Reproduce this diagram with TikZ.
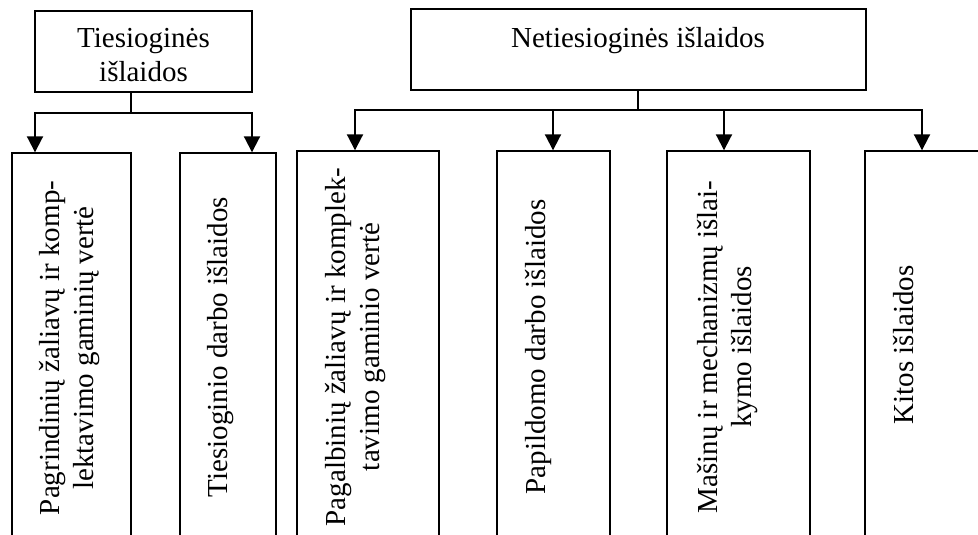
\documentclass[tikz,border=0pt]{standalone}
\usepackage{fontspec}
\setmainfont{Liberation Serif}
\usetikzlibrary{arrows.meta}
\begin{document}
\begin{tikzpicture}[x=1pt,y=-1pt,
  box/.style={draw, line width=1.4pt, inner sep=0pt},
  lbl/.style={font=\fontsize{29}{34}\selectfont, align=center, inner sep=0pt},
  vlbl/.style={lbl, rotate=90},
  stem/.style={line width=1.4pt},
  arr/.style={line width=2pt, -{Triangle[length=16pt,width=16pt]}}]
\useasboundingbox (0,0) rectangle (978,535);
\clip (0,0) rectangle (978,535);
% top boxes
\node[box, minimum width=217pt, minimum height=81pt] (t1) at (143.5,51.5) {};
\node[lbl] (t1l) at (143.5,55) {Tiesioginės\\išlaidos};
\node[box, minimum width=455pt, minimum height=81pt] (t2) at (638.5,49.5) {};
\node[lbl] (t2l) at (638,41) {Netiesioginės išlaidos};
% bottom boxes
\node[box, minimum width=119pt, minimum height=392pt] (A) at (71.5,349) {};
\node[box, minimum width=96pt, minimum height=392pt] (B) at (228,349) {};
\node[box, minimum width=142pt, minimum height=394pt] (C) at (368,348) {};
\node[box, minimum width=113pt, minimum height=394pt] (D) at (553.5,348) {};
\node[box, minimum width=143pt, minimum height=394pt] (E) at (738.5,348) {};
\node[box, minimum width=130pt, minimum height=394pt] (F) at (930,348) {};
\node[vlbl] (Al) at (70,348) {Pagrindinių žaliavų ir komp-\\lektavimo gaminių vertė};
\node[vlbl] (Bl) at (221,347) {Tiesioginio darbo išlaidos};
\node[vlbl] (Cl) at (356,347) {Pagalbinių žaliavų ir komplek-\\tavimo gaminio vertė};
\node[vlbl] (Dl) at (538,347) {Papildomo darbo išlaidos};
\node[vlbl] (El) at (728,347) {Mašinų ir mechanizmų išlai-\\kymo išlaidos};
\node[vlbl] (Fl) at (903.5,345) {Kitos išlaidos};
% connectors, left group
\coordinate (j1) at (131,113);
\coordinate (a1) at (35,113);
\coordinate (b1) at (252,113);
\draw[stem] (t1.south -| j1) -- (j1);
\draw[arr] (j1) -| (A.north -| a1);
\draw[arr] (j1) -| (B.north -| b1);
% connectors, right group
\coordinate (j2) at (638,110);
\coordinate (c1) at (355,110);
\coordinate (d1) at (553,110);
\coordinate (e1) at (724,110);
\coordinate (f1) at (922,110);
\draw[stem] (t2.south -| j2) -- (j2);
\draw[arr] (j2) -| (C.north -| c1);
\draw[arr] (j2) -| (F.north -| f1);
\draw[arr] (d1) -- (D.north -| d1);
\draw[arr] (e1) -- (E.north -| e1);
\end{tikzpicture}
\end{document}
